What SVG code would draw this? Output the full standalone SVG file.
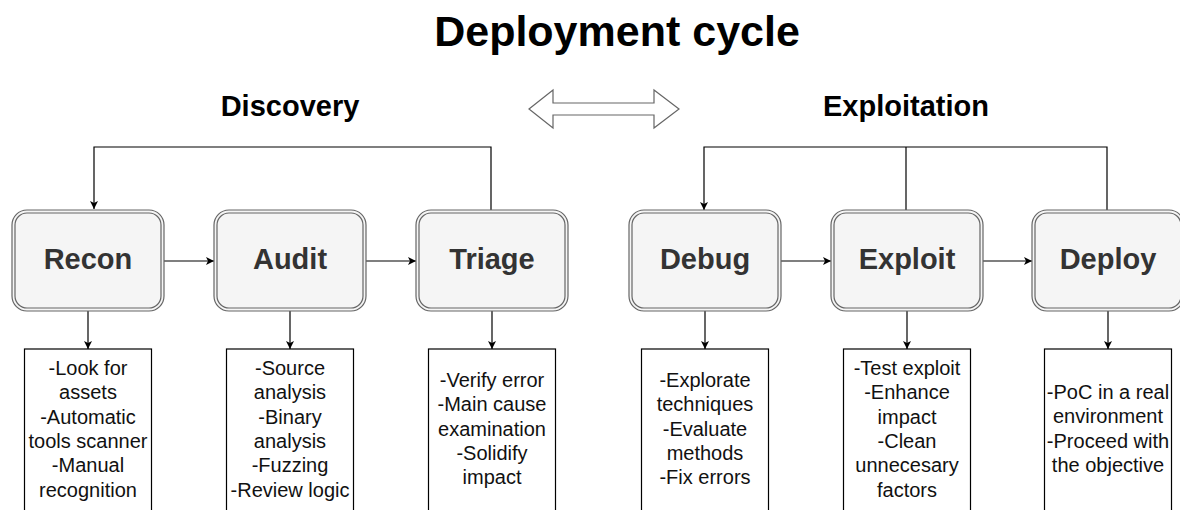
<svg xmlns="http://www.w3.org/2000/svg" width="1180" height="510" viewBox="0 0 1180 510" font-family="Liberation Sans, Arial, Helvetica, sans-serif">
<defs>
<marker id="arr" viewBox="0 0 10 10" refX="10" refY="5" markerWidth="8" markerHeight="8" markerUnits="userSpaceOnUse" orient="auto">
<path d="M0,0 L10,5 L0,10 L2.5,5 Z" fill="#000"/>
</marker>
<style>
.outer{fill:#f5f5f5;stroke:#666;stroke-width:1.2}
.inner{fill:#f5f5f5;stroke:#666;stroke-width:1.2}
.lbl{font-weight:bold;font-size:29px;fill:#333;text-anchor:middle}
.hdr{font-weight:bold;font-size:29px;fill:#000;text-anchor:middle}
.title{font-weight:bold;font-size:43px;fill:#000;text-anchor:middle}
.tb{fill:#fff;stroke:#000;stroke-width:1.2}
.txt{font-size:20px;fill:#111;text-anchor:middle}
.conn{fill:none;stroke:#000;stroke-width:1.2}
</style>
</defs>
<rect width="1180" height="510" fill="#fff"/>
<text class="title" x="617" y="46">Deployment cycle</text>
<text class="hdr" x="290" y="116">Discovery</text>
<text class="hdr" x="906" y="116">Exploitation</text>
<polygon points="529,109 553,90 553,103 654,103 654,90 679,109 654,128 654,115 553,115 553,128" fill="#fff" stroke="#666" stroke-width="1.2"/>

<g id="connectors">
<path class="conn" d="M491,210 V147 H94 V209" marker-end="url(#arr)"/>
<path class="conn" d="M1107,210 V147 H704 V210" marker-end="url(#arr)"/>
<path class="conn" d="M906,210 V147"/>
<path class="conn" d="M164,261 H214" marker-end="url(#arr)"/>
<path class="conn" d="M366,261 H416" marker-end="url(#arr)"/>
<path class="conn" d="M781,261 H831" marker-end="url(#arr)"/>
<path class="conn" d="M983,261 H1032" marker-end="url(#arr)"/>
<path class="conn" d="M88,311 V349" marker-end="url(#arr)"/>
<path class="conn" d="M290,311 V349" marker-end="url(#arr)"/>
<path class="conn" d="M492,311 V349" marker-end="url(#arr)"/>
<path class="conn" d="M705,311 V349" marker-end="url(#arr)"/>
<path class="conn" d="M907,311 V349" marker-end="url(#arr)"/>
<path class="conn" d="M1108,311 V349" marker-end="url(#arr)"/>
</g>

<g id="recon">
<rect class="outer" x="12" y="210" width="152" height="101" rx="15"/>
<rect class="inner" x="15" y="213" width="146" height="95" rx="12"/>
<text class="lbl" x="88" y="269">Recon</text>
</g>
<g id="audit">
<rect class="outer" x="214" y="210" width="152" height="101" rx="15"/>
<rect class="inner" x="217" y="213" width="146" height="95" rx="12"/>
<text class="lbl" x="290" y="269">Audit</text>
</g>
<g id="triage">
<rect class="outer" x="416" y="210" width="152" height="101" rx="15"/>
<rect class="inner" x="419" y="213" width="146" height="95" rx="12"/>
<text class="lbl" x="492" y="269">Triage</text>
</g>
<g id="debug">
<rect class="outer" x="629" y="210" width="152" height="101" rx="15"/>
<rect class="inner" x="632" y="213" width="146" height="95" rx="12"/>
<text class="lbl" x="705" y="269">Debug</text>
</g>
<g id="exploit">
<rect class="outer" x="831" y="210" width="152" height="101" rx="15"/>
<rect class="inner" x="834" y="213" width="146" height="95" rx="12"/>
<text class="lbl" x="907" y="269">Exploit</text>
</g>
<g id="deploy">
<rect class="outer" x="1032" y="210" width="152" height="101" rx="15"/>
<rect class="inner" x="1035" y="213" width="146" height="95" rx="12"/>
<text class="lbl" x="1108" y="269">Deploy</text>
</g>

<g id="recon-notes">
<rect class="tb" x="24.5" y="349" width="127" height="170"/>
<text class="txt" x="88" y="375">-Look for</text>
<text class="txt" x="88" y="399">assets</text>
<text class="txt" x="88" y="424">-Automatic</text>
<text class="txt" x="88" y="448">tools scanner</text>
<text class="txt" x="88" y="472">-Manual</text>
<text class="txt" x="88" y="497">recognition</text>
</g>
<g id="audit-notes">
<rect class="tb" x="226.5" y="349" width="127" height="170"/>
<text class="txt" x="290" y="375">-Source</text>
<text class="txt" x="290" y="399">analysis</text>
<text class="txt" x="290" y="424">-Binary</text>
<text class="txt" x="290" y="448">analysis</text>
<text class="txt" x="290" y="472">-Fuzzing</text>
<text class="txt" x="290" y="497">-Review logic</text>
</g>
<g id="triage-notes">
<rect class="tb" x="428.5" y="349" width="127" height="170"/>
<text class="txt" x="492" y="387">-Verify error</text>
<text class="txt" x="492" y="411">-Main cause</text>
<text class="txt" x="492" y="436">examination</text>
<text class="txt" x="492" y="460">-Solidify</text>
<text class="txt" x="492" y="484">impact</text>
</g>
<g id="debug-notes">
<rect class="tb" x="641.5" y="349" width="127" height="170"/>
<text class="txt" x="705" y="387">-Explorate</text>
<text class="txt" x="705" y="411">techniques</text>
<text class="txt" x="705" y="436">-Evaluate</text>
<text class="txt" x="705" y="460">methods</text>
<text class="txt" x="705" y="484">-Fix errors</text>
</g>
<g id="exploit-notes">
<rect class="tb" x="843.5" y="349" width="127" height="170"/>
<text class="txt" x="907" y="375">-Test exploit</text>
<text class="txt" x="907" y="399">-Enhance</text>
<text class="txt" x="907" y="424">impact</text>
<text class="txt" x="907" y="448">-Clean</text>
<text class="txt" x="907" y="472">unnecesary</text>
<text class="txt" x="907" y="497">factors</text>
</g>
<g id="deploy-notes">
<rect class="tb" x="1044.5" y="349" width="127" height="170"/>
<text class="txt" x="1108" y="399">-PoC in a real</text>
<text class="txt" x="1108" y="423">environment</text>
<text class="txt" x="1108" y="448">-Proceed with</text>
<text class="txt" x="1108" y="472">the objective</text>
</g>
</svg>
